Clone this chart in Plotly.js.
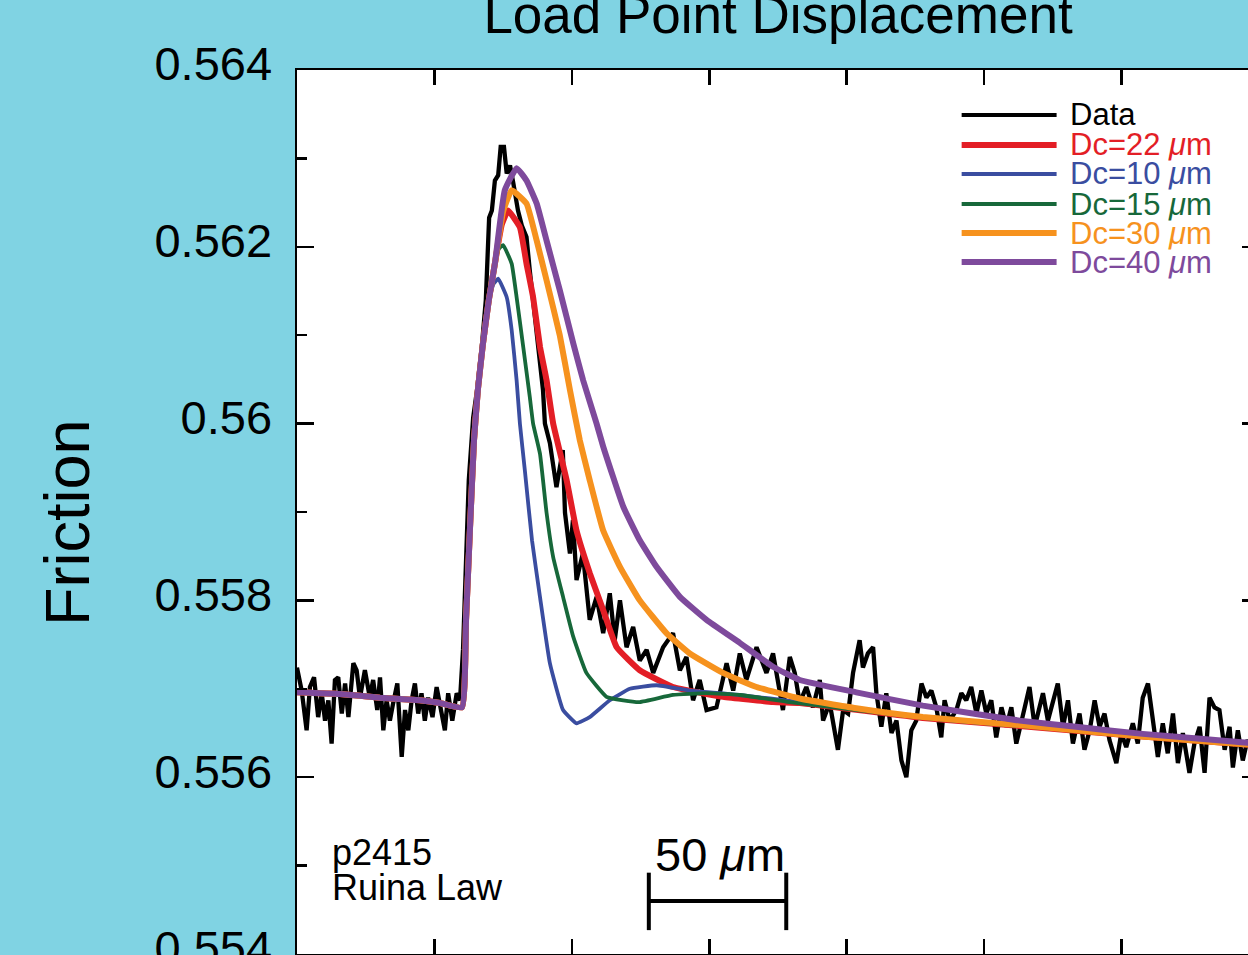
<!DOCTYPE html>
<html>
<head>
<meta charset="utf-8">
<script src="https://cdn.plot.ly/plotly-3.0.1.min.js"></script>
<style>
  html, body { margin: 0; padding: 0; overflow: hidden; background: rgb(128,211,227); }
  #chart { width: 1270px; height: 955px; }
</style>
</head>
<body>
<div id="chart"></div>
<script>
// Load point displacement (um) vs. friction, experiment p2415, Ruina law fits

const dataX = [0, 1.7, 3.5, 4.7, 6.2, 7.7, 9.0, 10.2, 11.4, 12.6, 13.8, 15.0, 16.3, 17.5, 18.7, 20.5, 21.7, 22.9, 24.7, 26.5,
  27.7, 29.2, 30.2, 31.4, 32.6, 33.8, 35.0, 36.5, 38.1, 39.3, 40.5, 41.7, 42.9, 44.1, 45.3, 46.5, 47.7, 49.3, 50.8, 52.3,
  53.8, 55.0, 56.5, 58.1, 59.3,
  60.4, 61.5, 62.5, 64.1, 65.5, 67.2, 68.7, 69.9, 70.9, 72.0, 73.2, 74.1, 75.3, 76.3, 77.5, 78.7, 80.4, 81.8, 83.5, 84.7,
  85.8, 87.3, 88.4, 89.5, 90.2, 92.0, 94.4, 96.7, 97.5, 99.3, 100.4, 101.7, 104.0, 106.5, 109.0, 111.4, 113.8, 115.6, 117.5, 119.9,
  122.3, 124.7, 127.2, 129.6, 133.2, 136.8, 139.3, 141.7, 144.1, 146.5, 149.0, 152.6, 156.3, 158.7, 161.1, 163.5, 167.2, 170.8, 173.2, 176.8,
  179.3, 181.1, 182.9, 185.3, 187.7, 190.2, 191.4, 193.8, 196.8, 198.7, 200.5, 202.3, 204.7, 205.9, 207.7, 209.6, 210.8, 212.6, 214.4, 216.3,
  218.1, 219.9, 221.7, 223.5, 225.3, 227.2, 229.0, 230.8, 232.6, 234.4, 235.6, 237.5, 239.9, 241.7, 243.5, 245.3, 247.2, 249.0, 250.8, 252.6,
  254.4, 256.3, 258.1, 259.9, 261.7,
  264.7, 266.5, 268.4, 270.2, 271.4, 273.2, 275.0, 276.8, 278.7, 280.5, 282.3, 284.7, 286.5, 288.4, 290.2, 292.0, 293.8, 295.6, 298.1, 299.9,
  301.7, 304.1, 305.9, 307.7, 309.6, 311.4, 313.2, 315.0, 316.8, 318.7, 320.5, 322.3, 324.7, 326.5, 328.4, 330.2, 332.0, 333.8, 335.6, 337.5,
  339.3, 340.5, 342.3, 344.1, 345.8, 348.0, 350.0];
const dataF = [0.55724, 0.55698, 0.55653, 0.55702, 0.55713, 0.55668, 0.55695, 0.55664, 0.55687, 0.55638, 0.55710, 0.55713, 0.55672, 0.55706, 0.55668, 0.55729, 0.55721, 0.55690, 0.55721, 0.55690,
  0.55710, 0.55676, 0.55713, 0.55653, 0.55687, 0.55664, 0.55684, 0.55706, 0.55623, 0.55676, 0.55653, 0.55687, 0.55706, 0.55672, 0.55695, 0.55664, 0.55690, 0.55668, 0.55702, 0.55676,
  0.55653, 0.55695, 0.55664, 0.55695, 0.55687,
  0.55744, 0.55845, 0.55936, 0.56007, 0.56038, 0.56086, 0.56140, 0.56233, 0.56241, 0.56275, 0.56281, 0.56313, 0.56313, 0.56283, 0.56292, 0.56272, 0.56241, 0.56224, 0.56211, 0.56173,
  0.56143, 0.56094, 0.56068, 0.56038, 0.56000, 0.55978, 0.55928, 0.55970, 0.55899, 0.55853, 0.55891, 0.55823, 0.55853, 0.55778, 0.55804, 0.55763, 0.55808, 0.55755, 0.55800, 0.55747,
  0.55770, 0.55732, 0.55744, 0.55718, 0.55747, 0.55763, 0.55721, 0.55736, 0.55687, 0.55710, 0.55676, 0.55679, 0.55729, 0.55698, 0.55740, 0.55710, 0.55747, 0.55718, 0.55740, 0.55676,
  0.55736, 0.55718, 0.55684, 0.55702, 0.55679, 0.55710, 0.55664, 0.55684, 0.55631, 0.55676, 0.55672, 0.55718, 0.55755, 0.55724, 0.55740, 0.55747, 0.55695, 0.55657, 0.55695, 0.55650,
  0.55664, 0.55619, 0.55600, 0.55653, 0.55664, 0.55706, 0.55690, 0.55698, 0.55679, 0.55645, 0.55687, 0.55664, 0.55676, 0.55695, 0.55687, 0.55702, 0.55672, 0.55698, 0.55672, 0.55687,
  0.55645, 0.55679, 0.55657, 0.55679, 0.55638,
  0.55676, 0.55702, 0.55657, 0.55679, 0.55695, 0.55664, 0.55687, 0.55706, 0.55657, 0.55687, 0.55638, 0.55672, 0.55631, 0.55653, 0.55687, 0.55657, 0.55672, 0.55642, 0.55616, 0.55650,
  0.55634, 0.55661, 0.55638, 0.55690, 0.55706, 0.55664, 0.55623, 0.55661, 0.55627, 0.55672, 0.55616, 0.55650, 0.55605, 0.55638, 0.55657, 0.55605, 0.55690, 0.55679, 0.55676, 0.55631,
  0.55657, 0.55611, 0.55653, 0.55619, 0.55642, 0.55630, 0.55645];

// Model fits for different critical slip distances Dc
const dc22X = [0, 15.6, 30.2, 44.7, 52.0, 60.0, 61.5, 62.9, 64.4, 65.8, 67.6, 69.8, 72.0, 74.5, 76.8, 81.1, 83.5, 85.9, 88.4, 90.8,
  93.2, 98.1, 101.7, 106.5, 111.4, 116.3, 124.7, 136.8, 155.0, 173.2, 182.9, 227.7, 262.9, 307.7, 345.8, 350];
const dc22F = [0.55696, 0.55694, 0.55690, 0.55687, 0.55684, 0.55679, 0.55778, 0.55879, 0.55981, 0.56038, 0.56089, 0.56140, 0.56181, 0.56225, 0.56241, 0.56222, 0.56181, 0.56143, 0.56087, 0.56049,
  0.56000, 0.55936, 0.55879, 0.55831, 0.55789, 0.55747, 0.55721, 0.55702, 0.55691, 0.55685, 0.55684, 0.55667, 0.55658, 0.55646, 0.55637, 0.55636];

const dc10X = [0, 15.6, 30.2, 44.7, 52.0, 60.0, 61.5, 62.9, 64.4, 65.8, 67.6, 69.8, 71.5, 73.2, 76.3, 78.1, 79.9, 81.1, 82.9, 85.5,
  88.4, 92.0, 96.8, 101.7, 106.5, 113.8, 121.1, 130.8, 142.9, 161.1, 182.9, 227.7, 262.9, 307.7, 345.8, 350];
const dc10F = [0.55696, 0.55694, 0.55690, 0.55687, 0.55684, 0.55679, 0.55778, 0.55879, 0.55981, 0.56038, 0.56089, 0.56140, 0.56158, 0.56164, 0.56143, 0.56106, 0.56049, 0.56000, 0.55947, 0.55868,
  0.55804, 0.55729, 0.55676, 0.55661, 0.55668, 0.55687, 0.55700, 0.55704, 0.55698, 0.55693, 0.55685, 0.55667, 0.55658, 0.55646, 0.55637, 0.55636];

const dc15X = [0, 15.6, 30.2, 44.7, 52.0, 60.0, 61.5, 62.9, 64.4, 65.8, 67.6, 69.8, 72.0, 73.5, 75.0, 78.1, 79.9, 82.3, 84.7, 85.9,
  88.4, 90.8, 93.2, 96.8, 100.5, 105.3, 112.6, 118.7, 124.7, 136.8, 149.0, 161.1, 179.3, 227.7, 262.9, 307.7, 345.8, 350];
const dc15F = [0.55696, 0.55694, 0.55690, 0.55687, 0.55684, 0.55679, 0.55778, 0.55879, 0.55981, 0.56038, 0.56089, 0.56140, 0.56181, 0.56198, 0.56202, 0.56181, 0.56143, 0.56087, 0.56030, 0.56000,
  0.55966, 0.55899, 0.55849, 0.55804, 0.55759, 0.55718, 0.55691, 0.55687, 0.55685, 0.55693, 0.55695, 0.55693, 0.55685, 0.55667, 0.55658, 0.55646, 0.55637, 0.55636];

const dc30X = [0, 15.6, 30.2, 44.7, 52.0, 60.0, 61.5, 62.9, 64.4, 65.8, 67.6, 69.8, 72.0, 75.0, 78.1, 83.5, 87.2, 90.8, 95.6, 99.3,
  102.9, 106.5, 111.4, 117.5, 124.7, 134.4, 142.9, 155.0, 167.2, 182.9, 203.5, 227.7, 262.9, 307.7, 345.8, 350];
const dc30F = [0.55696, 0.55694, 0.55690, 0.55687, 0.55684, 0.55679, 0.55778, 0.55879, 0.55981, 0.56038, 0.56089, 0.56140, 0.56181, 0.56240, 0.56264, 0.56249, 0.56207, 0.56162, 0.56100, 0.56038,
  0.55981, 0.55936, 0.55879, 0.55838, 0.55800, 0.55763, 0.55740, 0.55718, 0.55702, 0.55689, 0.55678, 0.55668, 0.55659, 0.55646, 0.55637, 0.55636];

const dc40X = [0, 15.6, 30.2, 44.7, 52.0, 60.0, 61.5, 62.9, 64.4, 65.8, 67.6, 69.8, 72.0, 75.6, 79.9, 83.5, 87.2, 90.8, 95.6, 100.5,
  104.1, 109.0, 111.4, 118.7, 124.7, 130.8, 139.3, 149.0, 161.1, 173.2, 182.9, 203.5, 227.7, 262.9, 283.5, 307.7, 345.8, 350];
const dc40F = [0.55696, 0.55694, 0.55690, 0.55687, 0.55684, 0.55679, 0.55778, 0.55879, 0.55981, 0.56038, 0.56089, 0.56140, 0.56181, 0.56264, 0.56289, 0.56275, 0.56249, 0.56207, 0.56151, 0.56091,
  0.56049, 0.56000, 0.55974, 0.55906, 0.55868, 0.55838, 0.55804, 0.55778, 0.55752, 0.55725, 0.55710, 0.55696, 0.55681, 0.55664, 0.55657, 0.55649, 0.55639, 0.55638];

const yTickVals = [0.554, 0.556, 0.558, 0.560, 0.562, 0.564];
const yTickText = ['0.554', '0.556', '0.558', '0.56', '0.562', '0.564'];

const legendNames = ['Data', 'Dc=22 <i>\u03bc</i>m', 'Dc=10 <i>\u03bc</i>m', 'Dc=15 <i>\u03bc</i>m', 'Dc=30 <i>\u03bc</i>m', 'Dc=40 <i>\u03bc</i>m'];

const C = {
  data: '#000000', dc22: '#E31E26', dc10: '#3A4DA0', dc15: '#17683A', dc30: '#F6921E', dc40: '#7E4A9C'
};
const FONT = '"Liberation Sans", Arial, Helvetica, sans-serif';

// model curves are drawn with light smoothing; the measured data stays piecewise linear
const smooth = { shape: 'spline', smoothing: 0.35 };
const traces = [
  { x: dataX, y: dataF, name: legendNames[0], line: { color: C.data, width: 4.3 } },
  { x: dc22X, y: dc22F, name: legendNames[1], line: Object.assign({ color: C.dc22, width: 6 }, smooth) },
  { x: dc10X, y: dc10F, name: legendNames[2], line: Object.assign({ color: C.dc10, width: 3.8 }, smooth) },
  { x: dc15X, y: dc15F, name: legendNames[3], line: Object.assign({ color: C.dc15, width: 3.8 }, smooth) },
  { x: dc30X, y: dc30F, name: legendNames[4], line: Object.assign({ color: C.dc30, width: 6 }, smooth) },
  { x: dc40X, y: dc40F, name: legendNames[5], line: Object.assign({ color: C.dc40, width: 6 }, smooth) }
].map(t => Object.assign({ type: 'scatter', mode: 'lines', hoverinfo: 'skip' }, t));

// hand-drawn legend: long line samples with coloured labels
const legendColors = [C.data, C.dc22, C.dc10, C.dc15, C.dc30, C.dc40];
const legendWidths = [4, 6, 4, 4, 6, 6];
const legendY = [0.9491, 0.9152, 0.8824, 0.8484, 0.8156, 0.7828];
const shapes = [];
const annotations = [];
legendY.forEach((y, i) => {
  shapes.push({ type: 'line', xref: 'paper', yref: 'paper', x0: 0.6909, x1: 0.7896, y0: y, y1: y,
    line: { color: legendColors[i], width: legendWidths[i] } });
  annotations.push({ xref: 'paper', yref: 'paper', x: 0.8011, y: y, xanchor: 'left', yanchor: 'middle',
    text: legendNames[i], showarrow: false, font: { family: FONT, size: 31, color: legendColors[i] } });
});

// 50 um scale bar
const barStart = 128, barEnd = 178;
shapes.push({ type: 'line', xref: 'x', yref: 'paper', x0: barStart, x1: barEnd, y0: 0.060, y1: 0.060, line: { color: '#000', width: 4 } });
shapes.push({ type: 'line', xref: 'x', yref: 'paper', x0: barStart, x1: barStart, y0: 0.027, y1: 0.092, line: { color: '#000', width: 4 } });
shapes.push({ type: 'line', xref: 'x', yref: 'paper', x0: barEnd, x1: barEnd, y0: 0.027, y1: 0.092, line: { color: '#000', width: 4 } });
annotations.push({ xref: 'x', yref: 'paper', x: (barStart + barEnd) / 2, xshift: 2, y: 0.112, xanchor: 'center', yanchor: 'middle',
  text: '50 <i>\u03bc</i>m', showarrow: false, font: { family: FONT, size: 47, color: '#000' } });

annotations.push({ xref: 'paper', yref: 'paper', x: 0.0374, xshift: -3, y: 0.1143, xanchor: 'left', yanchor: 'middle',
  text: 'p2415', showarrow: false, font: { family: FONT, size: 36, color: '#000' } });
annotations.push({ xref: 'paper', yref: 'paper', x: 0.0374, xshift: -3, y: 0.0747, xanchor: 'left', yanchor: 'middle',
  text: 'Ruina Law', showarrow: false, font: { family: FONT, size: 36, color: '#000' } });

// y-axis title
annotations.push({ xref: 'paper', yref: 'paper', x: -0.239, y: 0.4876, xanchor: 'center', yanchor: 'middle',
  text: 'Friction', textangle: -90, showarrow: false, font: { family: FONT, size: 63, color: '#000' } });

const layout = {
  width: 1270, height: 955,
  margin: { l: 297, r: 10.5, t: 70, b: 1, pad: 0 },
  paper_bgcolor: 'rgb(128,211,227)',
  plot_bgcolor: '#ffffff',
  showlegend: false,
  font: { family: FONT, color: '#000' },
  title: {
    text: 'Load Point Displacement',
    font: { family: FONT, size: 53, color: '#000' },
    x: 0.5, xref: 'paper', xanchor: 'center',
    y: 0.9853, yref: 'container', yanchor: 'middle'
  },
  xaxis: {
    range: [0, 350], dtick: 50, tick0: 0,
    showgrid: false, zeroline: false,
    showline: true, linecolor: '#000', linewidth: 2.5, mirror: 'ticks',
    ticks: 'inside', ticklen: 15, tickwidth: 2.5, tickcolor: '#000',
    showticklabels: false, automargin: false
  },
  yaxis: {
    range: [0.554, 0.564],
    tickmode: 'array', tickvals: yTickVals, ticktext: yTickText,
    showgrid: false, zeroline: false,
    showline: true, linecolor: '#000', linewidth: 2.5, mirror: 'ticks',
    ticks: 'inside', ticklen: 17, tickwidth: 2.5, tickcolor: '#000',
    minor: { dtick: 0.001, tick0: 0.554, ticks: 'inside', ticklen: 10, tickwidth: 2.5, tickcolor: '#000', showgrid: false },
    tickfont: { family: FONT, size: 47, color: '#000' },
    ticklabelstandoff: 13,
    ticklabelshift: -6,
    ticklabeloverflow: 'allow',
    automargin: false
  },
  shapes: shapes,
  annotations: annotations
};

Plotly.newPlot('chart', traces, layout, { displayModeBar: false, staticPlot: true });
</script>
</body>
</html>
